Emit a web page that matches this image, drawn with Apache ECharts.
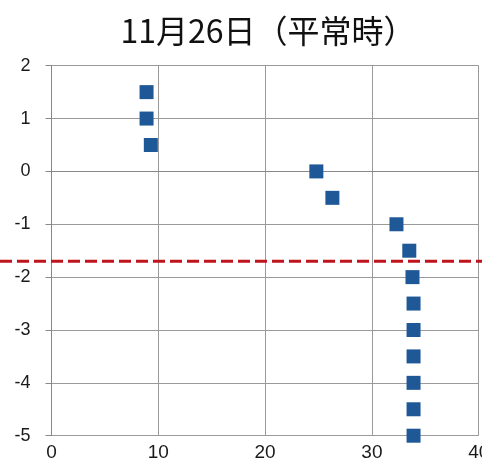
<!DOCTYPE html>
<html><head><meta charset="utf-8">
<script src="https://cdn.jsdelivr.net/npm/echarts@6/dist/echarts.min.js"></script>
<style>html,body{margin:0;padding:0;background:#fff}#c{width:482px;height:474px}</style>
</head><body><div id="c"></div>
<script>
const titleText = '11月26日（平常時）';
const xTicks = [0, 10, 20, 30, 40];
const yTicks = [-5, -4, -3, -2, -1, 0, 1, 2];
const depthX = [8.9, 8.9, 9.3, 24.8, 26.3, 32.3, 33.5, 33.8, 33.9, 33.9, 33.9, 33.9, 33.9, 33.9];
const levelY = [1.5, 1.0, 0.5, 0, -0.5, -1, -1.5, -2, -2.5, -3, -3.5, -4, -4.5, -5];
const thresholdY = -1.7;

const pts = depthX.map((x, i) => [x, levelY[i]]);
const chart = echarts.init(document.getElementById('c'));
const lab = {fontFamily: 'Liberation Sans Narrow, Liberation Sans, Arial', color: '#1a1a1a'};
chart.setOption({
  animation: false,
  backgroundColor: '#fff',
  title: {text: titleText, left: 263, top: 10, textAlign: 'center',
    textStyle: {fontFamily: 'Noto Sans CJK JP', fontSize: 32, fontWeight: 'normal', color: '#111'}},
  grid: [
    {left: 51.5, right: 3.3, top: 65.7, bottom: 38.3, containLabel: false, outerBoundsMode: 'none'},
    {left: 0, right: 0, top: 65.7, bottom: 38.3, containLabel: false, outerBoundsMode: 'none'}
  ],
  xAxis: [
    {type: 'value', gridIndex: 0, min: xTicks[0], max: xTicks[xTicks.length - 1], interval: 10,
     axisLine: {show: true, lineStyle: {color: '#888'}}, axisTick: {show: false},
     splitLine: {show: true, lineStyle: {color: '#9a9a9a', width: 1}},
     axisLabel: Object.assign({fontSize: 19, margin: 8}, lab)},
    {type: 'value', gridIndex: 1, min: 0, max: 1, show: false}
  ],
  yAxis: [
    {type: 'value', gridIndex: 0, min: yTicks[0], max: yTicks[yTicks.length - 1], interval: 1,
     axisLine: {show: true, lineStyle: {color: '#888'}},
     axisTick: {show: true, length: 6, lineStyle: {color: '#888'}},
     splitLine: {show: true, lineStyle: {color: '#9a9a9a', width: 1}},
     axisLabel: Object.assign({fontSize: 18, margin: 21}, lab)},
    {type: 'value', gridIndex: 1, min: yTicks[0], max: yTicks[yTicks.length - 1], show: false}
  ],
  series: [
    {type: 'scatter', xAxisIndex: 0, yAxisIndex: 0, data: pts, symbol: 'rect', symbolSize: 14,
     itemStyle: {color: '#1f5896', opacity: 1}, z: 3},
    {type: 'line', xAxisIndex: 1, yAxisIndex: 1, data: [[0, thresholdY], [1, thresholdY]],
     symbol: 'none', lineStyle: {color: '#c0141c', width: 3, type: [12, 5]}, z: 4}
  ]
});
</script></body></html>
